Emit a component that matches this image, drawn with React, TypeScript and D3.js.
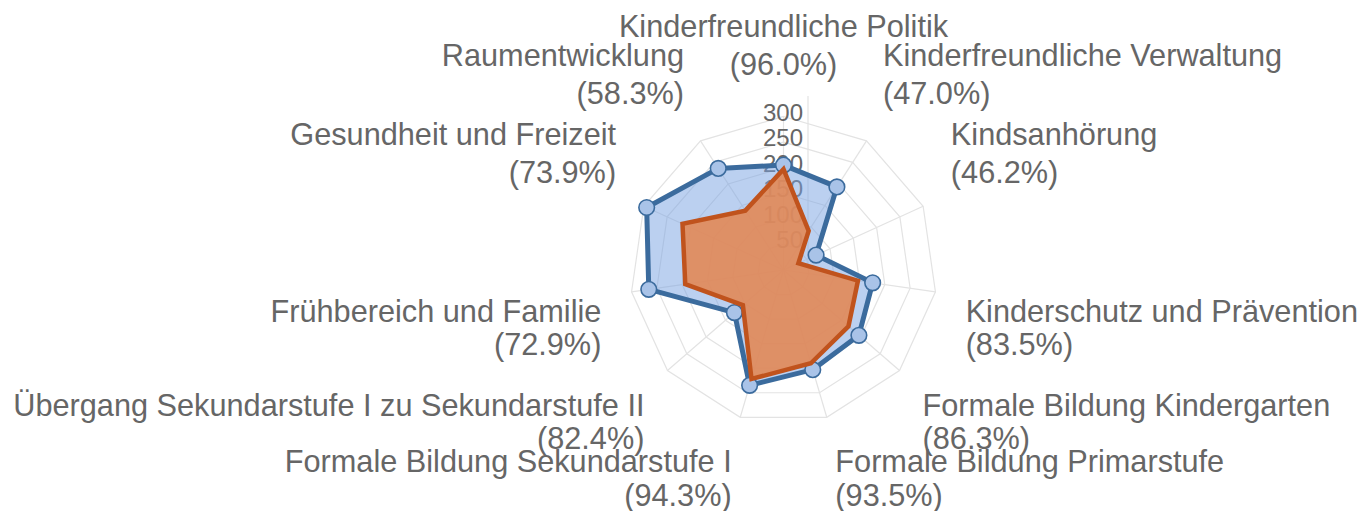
import React from "react";
import * as d3 from "d3";

const categories = [
  "Kinderfreundliche Politik",
  "Kinderfreundliche Verwaltung",
  "Kindsanhörung",
  "Kinderschutz und Prävention",
  "Formale Bildung Kindergarten",
  "Formale Bildung Primarstufe",
  "Formale Bildung Sekundarstufe I",
  "Übergang Sekundarstufe I zu Sekundarstufe II",
  "Frühbereich und Familie",
  "Gesundheit und Freizeit",
  "Raumentwicklung",
];
const percentLabels = ["96.0%", "47.0%", "46.2%", "83.5%", "86.3%", "93.5%", "94.3%", "82.4%", "72.9%", "73.9%", "58.3%"];
const seriesBlue = [205, 193, 70, 176, 195, 203, 235, 127, 266, 294, 236];
const seriesOrange = [197, 91, 32, 147, 168, 190, 222, 105, 194, 217, 138];
const radialTicks = [50, 100, 150, 200, 250, 300];

const W = 1360;
const H = 511;
const CX = 783.5;
const CY = 270;
const R300 = 153.5;
const LABEL_R = 184;
const FONT = "'Liberation Sans', Arial, sans-serif";
const TEXT_COLOR = "#666666";

export default function App() {
  const n = categories.length;
  const r = d3.scaleLinear().domain([0, 300]).range([0, R300]);
  const angle = d3.scaleLinear().domain([0, n]).range([0, 2 * Math.PI]);
  const idx = d3.range(n);

  const pt = (i: number, rad: number): [number, number] => {
    const a = angle(i);
    return [rad * Math.sin(a), -rad * Math.cos(a)];
  };

  const radialLine = d3
    .lineRadial<number>()
    .angle((_, i) => angle(i))
    .radius((d) => r(d))
    .curve(d3.curveLinearClosed);

  const gridLine = d3
    .lineRadial<number>()
    .angle((d) => angle(d))
    .curve(d3.curveLinearClosed);

  return (
    <svg width={W} height={H} style={{ position: "absolute", left: 0, top: 0, background: "#fff" }}>
      <g transform={`translate(${CX},${CY})`}>
        {radialTicks.map((t) => (
          <path key={t} d={gridLine.radius(r(t))(idx) || ""} fill="none" stroke="#e3e3e3" strokeWidth={1.2} />
        ))}
        {idx.map((i) => {
          const [x, y] = pt(i, r(300));
          return <line key={i} x1={0} y1={0} x2={x} y2={y} stroke="#e3e3e3" strokeWidth={1.2} />;
        })}
        <line x1={24.5} y1={-174} x2={24.5} y2={0} stroke="#e3e3e3" strokeWidth={1.2} />
        {radialTicks.map((t) => (
          <text
            key={t}
            x={19.5}
            y={-r(t) + 4}
            textAnchor="end"
            fontFamily={FONT}
            fontSize={24}
            fill={TEXT_COLOR}
          >
            {t}
          </text>
        ))}
        <path d={radialLine(seriesBlue) || ""} fill="rgba(120,162,226,0.5)" stroke="#3b6b9d" strokeWidth={5} strokeLinejoin="round" />
        {seriesBlue.map((v, i) => {
          const [x, y] = pt(i, r(v));
          return <circle key={i} cx={x} cy={y} r={7.8} fill="#a9c3e8" stroke="#3b6b9d" strokeWidth={1.6} />;
        })}
        <path d={radialLine(seriesOrange) || ""} fill="rgba(226,136,86,0.9)" stroke="#c0531d" strokeWidth={4.5} strokeLinejoin="miter" />
        {idx.map((i) => {
          const a = angle(i);
          const s = Math.sin(a);
          const c = Math.cos(a);
          const [x, y] = pt(i, LABEL_R);
          const anchor = Math.abs(s) < 0.05 ? "middle" : s > 0 ? "start" : "end";
          const top = c > 0;
          const gap = top ? 38 : 33.5;
          const b1 = top ? y - 11 - gap : y + 25.5;
          return (
            <text key={i} textAnchor={anchor} fontFamily={FONT} fontSize={30.7} fill={TEXT_COLOR}>
              <tspan x={x} y={b1}>{categories[i]}</tspan>
              <tspan x={x} y={b1 + gap}>({percentLabels[i]})</tspan>
            </text>
          );
        })}
      </g>
    </svg>
  );
}
